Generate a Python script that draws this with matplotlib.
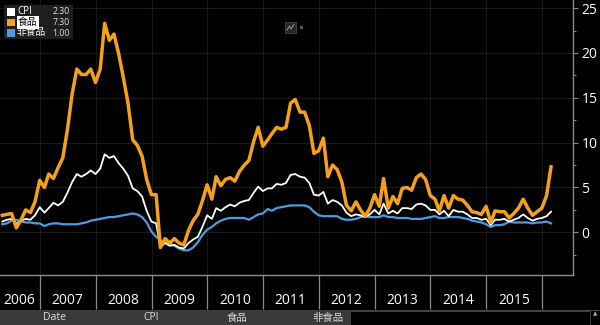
import matplotlib
matplotlib.use('Agg')
import matplotlib.pyplot as plt
import matplotlib.dates as mdates
from matplotlib.ticker import MultipleLocator
from matplotlib.patches import Rectangle
from matplotlib.lines import Line2D
import pandas as pd

plt.rcParams['font.family'] = ['Open Sans', 'Noto Sans CJK SC', 'DejaVu Sans']

# ---------------- data (monthly YoY %, Apr 2006 - Feb 2016) ----------------
start_month = '2006-04-30'
cpi = [1.2, 1.4, 1.5, 1.0, 1.3, 1.5, 1.4, 1.9, 2.8,
       2.2, 2.7, 3.3, 3.0, 3.4, 4.4, 5.6, 6.5, 6.2, 6.5, 6.9, 6.5,
       7.1, 8.7, 8.3, 8.5, 7.7, 7.1, 6.3, 4.9, 4.6, 4.0, 2.4, 1.2,
       1.0, -1.6, -1.2, -1.5, -1.4, -1.7, -1.8, -1.2, -0.8, -0.5, 0.6, 1.9,
       1.5, 2.7, 2.4, 2.8, 3.1, 2.9, 3.3, 3.5, 3.6, 4.4, 5.1, 4.6,
       4.9, 4.9, 5.4, 5.3, 5.5, 6.4, 6.5, 6.2, 6.1, 5.5, 4.2, 4.1,
       4.5, 3.2, 3.6, 3.4, 3.0, 2.2, 1.8, 2.0, 1.9, 1.7, 2.0, 2.5,
       2.0, 3.2, 2.1, 2.4, 2.1, 2.7, 2.7, 2.6, 3.1, 3.2, 3.0, 2.5,
       2.5, 2.0, 2.4, 1.8, 2.5, 2.3, 2.3, 2.0, 1.6, 1.6, 1.4, 1.5,
       0.8, 1.4, 1.4, 1.5, 1.2, 1.4, 1.6, 2.0, 1.6, 1.3, 1.5, 1.6,
       1.8, 2.3]
food = [1.9, 2.0, 2.1, 0.5, 1.4, 2.5, 2.2, 3.4, 5.8,
        5.0, 6.5, 6.0, 7.2, 8.3, 11.4, 15.4, 18.2, 17.6, 17.6, 18.2, 16.7,
        18.2, 23.3, 21.4, 22.1, 19.9, 17.3, 14.4, 10.3, 9.7, 8.5, 5.9, 4.2,
        4.2, -1.7, -0.7, -1.2, -0.7, -1.2, -1.4, 0.2, 1.3, 2.0, 3.5, 5.3,
        3.7, 6.2, 5.2, 5.9, 6.1, 5.7, 6.8, 7.5, 8.0, 10.1, 11.7, 9.6,
        10.3, 11.0, 11.7, 11.5, 11.7, 14.4, 14.8, 13.4, 13.4, 11.9, 8.8, 9.1,
        10.5, 6.2, 7.5, 7.0, 5.6, 3.0, 2.4, 3.4, 2.5, 1.8, 2.7, 4.2,
        2.9, 6.0, 2.7, 4.0, 3.2, 4.9, 5.0, 4.7, 6.1, 6.5, 5.9, 4.1,
        3.7, 2.4, 4.1, 2.7, 4.1, 3.7, 3.6, 3.0, 2.3, 2.2, 2.0, 2.9,
        1.1, 2.4, 2.3, 2.3, 1.6, 2.1, 2.7, 3.7, 2.7, 1.9, 2.3, 2.7,
        4.1, 7.3]
nonfood = [0.9, 1.0, 1.3, 1.4, 1.2, 1.1, 1.1, 1.0, 1.0,
           0.7, 0.9, 1.0, 1.0, 0.9, 0.9, 0.9, 0.9, 1.0, 1.1, 1.3, 1.4,
           1.5, 1.6, 1.7, 1.7, 1.8, 1.9, 2.0, 2.1, 2.0, 1.7, 1.1, 0.1,
           -0.5, -0.9, -1.1, -1.3, -1.5, -1.8, -2.0, -2.0, -1.7, -1.1, -0.3, 0.3,
           0.6, 1.0, 1.3, 1.5, 1.6, 1.6, 1.6, 1.6, 1.4, 1.7, 2.0, 2.1,
           2.6, 2.4, 2.7, 2.8, 2.9, 3.0, 3.0, 3.0, 3.0, 2.8, 2.3, 1.9,
           1.8, 1.8, 1.8, 1.8, 1.5, 1.4, 1.4, 1.5, 1.7, 1.8, 1.7, 1.7,
           1.7, 1.9, 1.7, 1.7, 1.6, 1.6, 1.6, 1.5, 1.5, 1.5, 1.6, 1.7,
           1.8, 1.6, 1.6, 1.7, 1.7, 1.7, 1.6, 1.5, 1.3, 1.2, 1.1, 0.9,
           0.6, 0.8, 0.8, 0.9, 1.2, 1.1, 1.1, 1.1, 1.1, 1.0, 1.1, 1.1,
           1.2, 1.0]

series_names = ['CPI', '食品', '非食品']
legend_values = ['2.30', '7.30', '1.00']
year_labels = ['2006', '2007', '2008', '2009', '2010', '2011', '2012', '2013', '2014', '2015']
y_ticks = [0, 5, 10, 15, 20, 25]
table_headers = ['Date', 'CPI', '食品', '非食品']

COL_CPI = '#ffffff'
COL_FOOD = '#f5a01a'
COL_NONFOOD = '#4f9be0'
AXCOL = '#8a8a8a'

# ---------------- figure ----------------
W, H = 600, 325
fig = plt.figure(figsize=(W / 100, H / 100), dpi=100, facecolor='black')

def fx(x):
    return x / W

def fy(y):
    return 1 - y / H

ax_bottom_px = 274.5
ax = fig.add_axes([0, fy(ax_bottom_px), 573 / W, ax_bottom_px / H])
ax.set_facecolor('black')

dates = pd.date_range(start_month, periods=len(cpi), freq='ME')
ax.plot(dates, nonfood, color=COL_NONFOOD, lw=1.6, zorder=3, solid_joinstyle='round')
ax.plot(dates, cpi, color=COL_CPI, lw=1.3, zorder=4, solid_joinstyle='round')
ax.plot(dates, food, color=COL_FOOD, lw=2.5, zorder=5, solid_joinstyle='round')

ax.set_ylim(-4.7, 25.9)
ax.set_xlim(pd.Timestamp('2006-04-15'), pd.Timestamp('2016-07-22'))

# y axis on the right
ax.yaxis.tick_right()
ax.set_yticks(y_ticks)
ax.set_yticklabels([str(v) for v in y_ticks])
ax.yaxis.set_minor_locator(MultipleLocator(2.5))
ax.tick_params(axis='y', which='major', direction='out', length=3.5, width=0.8,
               color=AXCOL, labelcolor='white', labelsize=10, pad=2.5)
ax.tick_params(axis='y', which='minor', direction='out', length=2.5, width=0.8, color=AXCOL)

# x axis: year separators as major ticks, labels at mid-year (minor ticks)
ax.xaxis.set_major_locator(mdates.YearLocator())
ax.xaxis.set_major_formatter(plt.NullFormatter())
mid_years = [pd.Timestamp(f'{y}-07-01') for y in year_labels[1:]]
ax.set_xticks(mid_years, minor=True)
ax.set_xticklabels(year_labels[1:], minor=True)
ax.tick_params(axis='x', which='major', direction='out', length=24.5, width=0.9, color=AXCOL)
ax.tick_params(axis='x', which='minor', length=0, labelcolor='white', labelsize=10, pad=13.5)
ax.text(3 / 573, -25.5 / ax_bottom_px, year_labels[0], transform=ax.transAxes,
        ha='left', va='center', color='white', fontsize=10)

ax.grid(True, which='major', color='#191919', lw=0.8, zorder=0)

for s in ['top', 'left']:
    ax.spines[s].set_visible(False)
for s in ['bottom', 'right']:
    ax.spines[s].set_color(AXCOL)
    ax.spines[s].set_linewidth(1.0)

# ---------------- legend box ----------------
fig.add_artist(Rectangle((fx(4), fy(39)), 69 / W, 34 / H, transform=fig.transFigure,
                         facecolor='#1e1e1e', edgecolor='none', zorder=10))
row_y = [12, 22.5, 33]
cols = [COL_CPI, COL_FOOD, COL_NONFOOD]
for name, val, yc, c in zip(series_names, legend_values, row_y, cols):
    fig.add_artist(Rectangle((fx(7), fy(yc + 3.7)), 7.5 / W, 7.5 / H, transform=fig.transFigure,
                             facecolor=c, edgecolor='none', zorder=11))
    if name == '食品':
        fig.text(fx(18), fy(yc), name, ha='left', va='center', fontsize=7, color='black',
                 zorder=12, bbox=dict(facecolor='white', edgecolor='none', pad=0.8))
    else:
        fig.text(fx(17), fy(yc), name, ha='left', va='center', fontsize=7, color='white', zorder=12)
    fig.text(fx(70), fy(yc), val, ha='right', va='center', fontsize=6.3, color='#e0e0e0', zorder=12)

# ---------------- small chart-type icon ----------------
fig.add_artist(Rectangle((fx(285), fy(33)), 11 / W, 11 / H, transform=fig.transFigure,
                         facecolor='#262626', edgecolor='#4a4a4a', lw=0.6, zorder=10))
fig.add_artist(Line2D([fx(287), fx(289.5), fx(291), fx(294)], [fy(30), fy(26), fy(29), fy(24.5)],
                      transform=fig.transFigure, color='#9a9a9a', lw=0.7, zorder=11))
fig.add_artist(Rectangle((fx(299.5), fy(29)), 3 / W, 3 / H, transform=fig.transFigure,
                         facecolor='#555555', edgecolor='none', zorder=10))

# ---------------- bottom table header ----------------
fig.add_artist(Line2D([0, 1], [fy(310), fy(310)], transform=fig.transFigure,
                      color='#444444', lw=0.8, zorder=9))
fig.add_artist(Rectangle((0, 0), fx(350), 15 / H, transform=fig.transFigure,
                         facecolor='#3a3a3a', edgecolor='none', zorder=9))
fig.add_artist(Rectangle((fx(350), 0), fx(240), 14.5 / H, transform=fig.transFigure,
                         facecolor='black', edgecolor='#4a4a4a', lw=0.6, zorder=9))
for hdr, xc in zip(table_headers, [55, 151, 237, 328]):
    fig.text(fx(xc), fy(318), hdr, ha='center', va='center', fontsize=7.5,
             color='#dddddd', zorder=12)
fig.text(fx(595), fy(314), '▲', ha='center', va='center', fontsize=4,
         color='#aaaaaa', family='DejaVu Sans', zorder=12)

fig.savefig('out.png', dpi=100, facecolor='black')
